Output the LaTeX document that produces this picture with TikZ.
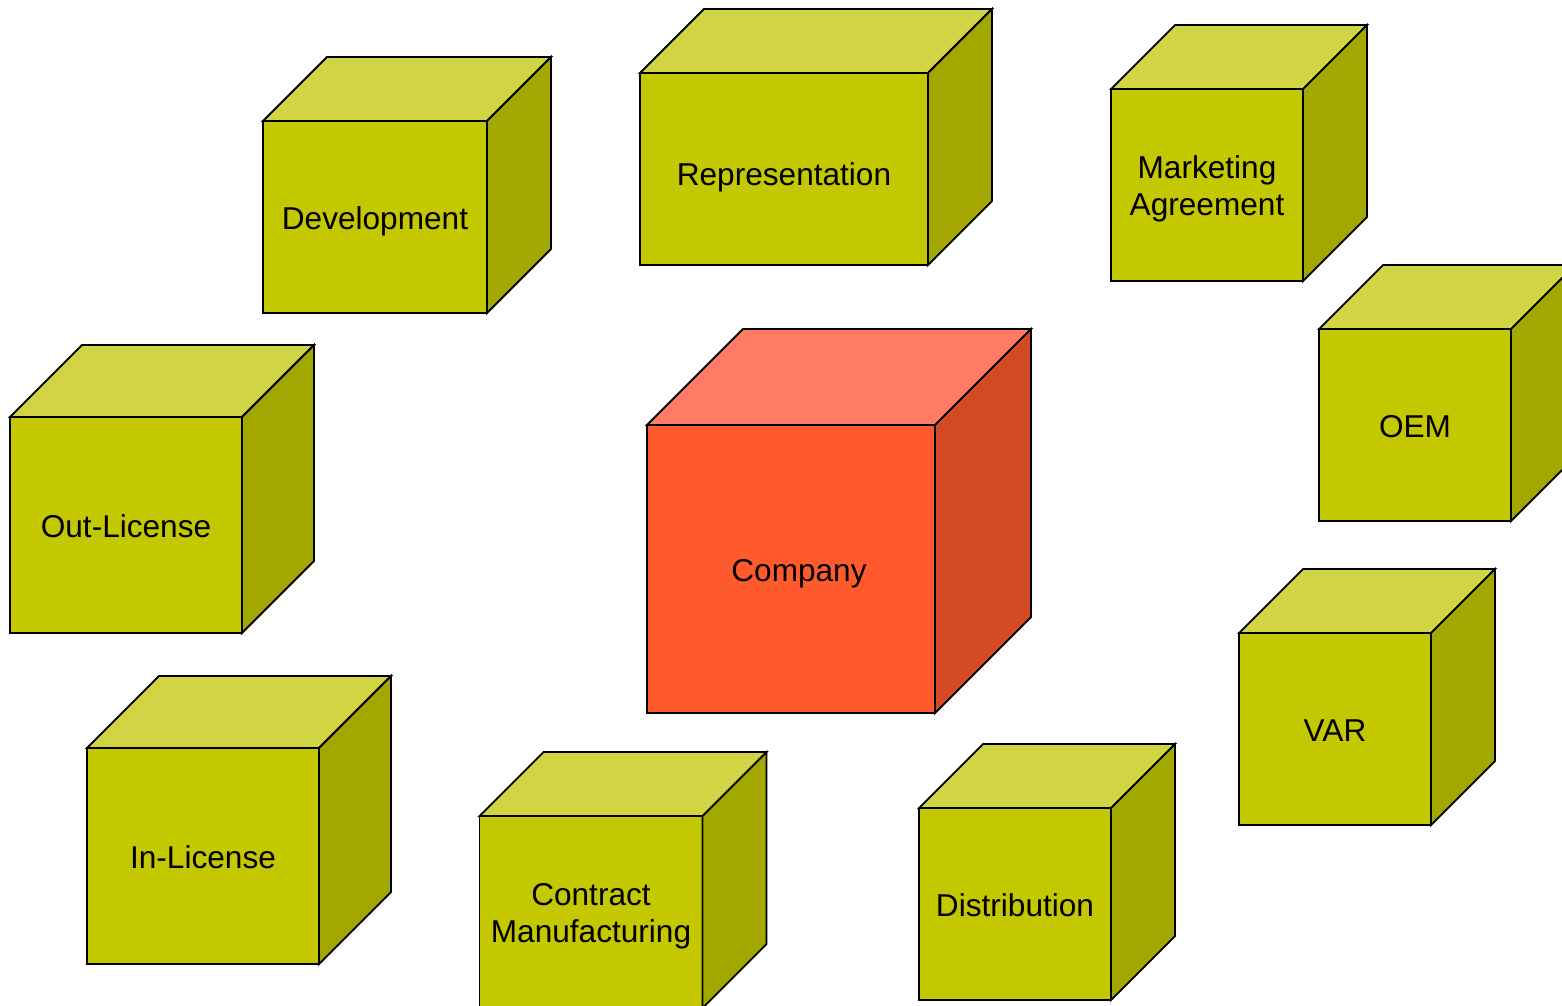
\documentclass[tikz,border=0pt]{standalone}
\usepackage{fontspec}
\setmainfont{Liberation Sans}
\usepackage{tikz}
\usetikzlibrary{
    calc,
    positioning
}
\definecolor{oliveFront}{HTML}{C4C800}
\definecolor{oliveTop}{HTML}{D2D543}
\definecolor{oliveSide}{HTML}{A3A800}
\definecolor{coralFront}{HTML}{FF5A2D}
\definecolor{coralTop}{HTML}{FF7B61}
\definecolor{coralSide}{HTML}{D44A24}
\tikzset{
  face/.style = {
      draw=black,
      line width=1.8pt,
      line join=miter
  },
  front/.style = {
      face,
      rectangle,
      fill=oliveFront,
      outer sep=0pt,
      inner sep=0pt,
      align=center,
      font=\fontsize{31.6}{37}\selectfont,
      text height=31pt,
      text depth=7pt,
      minimum height=192pt
  },
  twoline/.style = {
      front,
      text height=67pt
  },
  hub/.style = {
      front,
      fill=coralFront
  }
}
% top and right faces of a box: node, depth, top colour, side colour
\newcommand{\boxfaces}[4]{
    \draw[face, fill=#3] (#1.north west) -- ++(#2,-#2)
        -- ($(#1.north east)+(#2,-#2)$) -- (#1.north east) -- cycle;
    \draw[face, fill=#4] (#1.north east) -- ++(#2,-#2)
        -- ($(#1.south east)+(#2,-#2)$) -- (#1.south east) -- cycle;
}

\begin{document}
\begin{tikzpicture}[x=1pt, y=-1pt]
    \useasboundingbox (0,0) rectangle (1562,1005);
    \clip (0,0) rectangle (1562,1005);
    % Outer boxes
    \node[front, minimum width=224pt] (dev) at (375,217) {Development};
    \boxfaces{dev}{64}{oliveTop}{oliveSide}
    \node[front, minimum width=288pt, text height=39pt] (rep) at (784,169) {Representation};
    \boxfaces{rep}{64}{oliveTop}{oliveSide}
    \node[twoline, minimum width=192pt] (mkt) at (1207,185) {Marketing\\Agreement};
    \boxfaces{mkt}{64}{oliveTop}{oliveSide}
    \node[front, minimum width=192pt] (oem) at (1415,425) {OEM};
    \boxfaces{oem}{64}{oliveTop}{oliveSide}
    \node[front, minimum width=232pt, minimum height=216pt] (out) at (126,525) {Out-License};
    \boxfaces{out}{72}{oliveTop}{oliveSide}
    \node[front, minimum width=192pt] (var) at (1335,729) {VAR};
    \boxfaces{var}{64}{oliveTop}{oliveSide}
    \node[front, minimum width=232pt, minimum height=216pt] (inl) at (203,856) {In-License};
    \boxfaces{inl}{72}{oliveTop}{oliveSide}
    \node[twoline, minimum width=223pt] (cmf) at (591,912) {Contract\\Manufacturing};
    \boxfaces{cmf}{64}{oliveTop}{oliveSide}
    \node[front, minimum width=192pt] (dist) at (1015,904) {Distribution};
    \boxfaces{dist}{64}{oliveTop}{oliveSide}
    % Centre box
    \node[hub, minimum width=288pt, minimum height=288pt] (comp) at (791,569) {\hspace*{16pt}Company};
    \boxfaces{comp}{96}{coralTop}{coralSide}
\end{tikzpicture}
\end{document}
